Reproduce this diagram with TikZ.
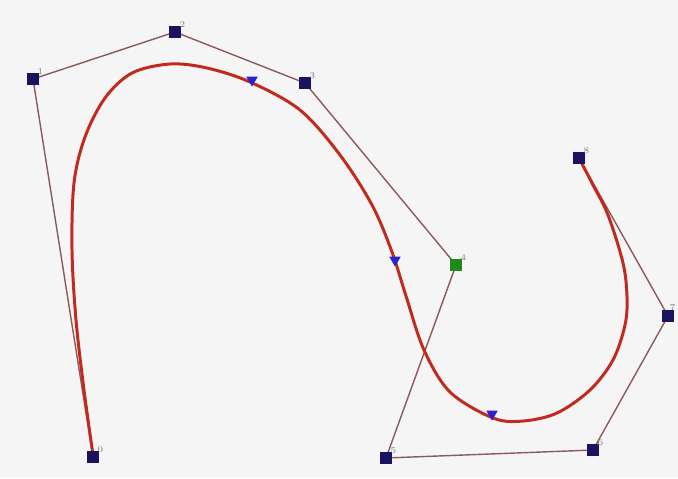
\documentclass[tikz,border=0pt]{standalone}
\usepackage{amsmath,amssymb}
\usetikzlibrary{shapes.geometric}

\definecolor{ptblue}{HTML}{1A1460}
\definecolor{ptgreen}{HTML}{1E8A1E}
\definecolor{polyline}{HTML}{8C5A5A}
\definecolor{curvered}{HTML}{C22A20}
\definecolor{knotblue}{HTML}{2A22D0}
\definecolor{bggray}{HTML}{F5F5F5}

\tikzset{
  ctrlpt/.style={draw=none,fill=ptblue,minimum size=6.5pt,inner sep=0pt},
  ptlabel/.style={font=\tiny,text=gray,inner sep=0.3pt},
  knotmark/.style={regular polygon,regular polygon sides=3,shape border rotate=180,
    fill=knotblue,inner sep=0pt,minimum size=7.5pt}
}

\begin{document}
\begin{tikzpicture}[x=0.02cm,y=-0.02cm]
\fill[bggray] (0,0) rectangle (678,478);
\useasboundingbox (0,0) rectangle (678,478);

% control points
\foreach \i/\x/\y in {0/93/457,1/33/79,2/175/32,3/305/83,4/456/265,5/386/458,6/593/450,7/668/316,8/579/158}
  \coordinate (p\i) at (\x,\y);

% control polygon
\draw[polyline,line width=0.8pt] (p0) -- (p1) -- (p2) -- (p3) -- (p4)
  -- (p5) -- (p6) -- (p7) -- (p8);

% the spline
\draw[curvered,line width=1.7pt] plot[smooth,tension=0.55] coordinates {
  (93,455) (84,390) (76,320) (72,250) (74,183) (85,137) (105,98)
  (132,73) (170,64) (207,68) (250,82) (300,110) (340,155) (372,205)
  (392,252) (406,296) (424,350) (450,392) (493,418) (523,421) (557,413)
  (590,390) (613,360) (625,325) (627,297) (623,263) (608,215) (593,185) (579,158)};

% knots
\node[knotmark] (k1) at (252,80) {};
\node[knotmark] (k2) at (395,260) {};
\node[knotmark] (k3) at (492,414) {};

\foreach \i in {0,1,2,3,5,6,8}
  \node[ctrlpt,label={[ptlabel,label distance=-2pt]45:\i}] (n\i) at (p\i) {};
\node[ctrlpt,fill=ptgreen,label={[ptlabel,label distance=-2pt]45:4}] (n4) at (p4) {};
\node[ctrlpt,label={[ptlabel,label distance=-1pt]80:7}] (n7) at (p7) {};
\end{tikzpicture}
\end{document}
